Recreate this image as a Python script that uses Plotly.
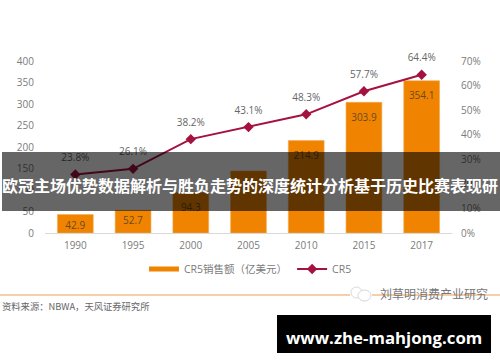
import plotly.graph_objects as go

years = ["1990", "1995", "2000", "2005", "2010", "2015", "2017"]
sales = [42.9, 52.7, 94.3, 144.0, 214.9, 303.9, 354.1]
short_bar_labels = ["42.9", "52.7", "", "", "", "", ""]
tall_bar_labels = ["", "", "94.3", "", "214.9", "303.9", "354.1"]
cr5 = [23.8, 26.1, 38.2, 43.1, 48.3, 57.7, 64.4]
cr5_labels = ["23.8%", "26.1%", "38.2%", "43.1%", "48.3%", "57.7%", "64.4%"]
left_ticks = [0, 50, 100, 150, 200, 250, 300, 350, 400]
right_ticks = [0, 10, 20, 30, 40, 50, 60, 70]
right_tick_labels = ["0%", "10%", "20%", "30%", "40%", "50%", "60%", "70%"]

title_text = "欧冠主场优势数据解析与胜负走势的深度统计分析基于历史比赛表现研"
source_text = "资料来源：NBWA，天风证券研究所"
watermark_text = "刘草明消费产业研究"
site_text = "www.zhe-mahjong.com"

ORANGE = "#f08400"
WINE = "#a5123f"
GREY = "#7b7b7b"
FONT = "Open Sans, Noto Sans CJK SC, sans-serif"
CJK = "Noto Sans CJK SC, sans-serif"

W, H = 500, 362
L, R, T, B = 45, 452, 61, 233
def px(x):
    return (x - L) / (R - L)
def py(y):
    return (B - y) / (B - T)

fig = go.Figure()
fig.add_trace(go.Bar(
    x=years, y=sales, name="CR5销售额（亿美元）", showlegend=False,
    marker=dict(color=ORANGE, line=dict(color="#f5a94f", width=0.6)),
    width=0.62, text=short_bar_labels, textposition="inside", insidetextanchor="end",
    textangle=0, cliponaxis=False, constraintext="none",
    textfont=dict(size=10, color="#6b4a1e", family=FONT), hoverinfo="skip",
))
fig.add_trace(go.Scatter(
    x=years, y=sales, mode="markers+text", showlegend=False, hoverinfo="skip",
    marker=dict(size=16, color="rgba(0,0,0,0)"),
    text=tall_bar_labels, textposition="bottom center",
    textfont=dict(size=10, color="#6b4a1e", family=FONT), cliponaxis=False,
))
# Legend key for the bars, drawn as a wide band like the original legend
fig.add_trace(go.Scatter(
    x=[None], y=[None], mode="lines", name="CR5销售额（亿美元）",
    line=dict(color=ORANGE, width=5),
))
fig.add_trace(go.Scatter(
    x=years, y=cr5, yaxis="y2", mode="lines+markers", name="CR5",
    line=dict(color=WINE, width=2), marker=dict(symbol="diamond", size=8, color=WINE),
))
fig.add_trace(go.Scatter(
    x=years, y=cr5, yaxis="y2", mode="markers+text", showlegend=False, hoverinfo="skip",
    marker=dict(size=16, color="rgba(0,0,0,0)"),
    text=cr5_labels, textposition="top center",
    textfont=dict(size=10, color="#666666", family=FONT), cliponaxis=False,
))

fig.update_layout(
    width=W, height=H, autosize=False,
    margin=dict(l=L, r=W - R, t=T, b=H - B),
    paper_bgcolor="white", plot_bgcolor="white",
    font=dict(family=FONT, size=10, color=GREY),
    bargap=0.38,
    xaxis=dict(type="category", showgrid=False, zeroline=False, showline=True,
               linecolor="#d9d9d9", linewidth=1, ticks="outside", ticklen=3, tickcolor="white",
               tickfont=dict(size=10, color=GREY)),
    yaxis=dict(range=[0, 400], tickvals=left_ticks, showgrid=False, zeroline=False,
               showline=False, ticks="", tickfont=dict(size=10, color=GREY), ticklabelstandoff=10),
    yaxis2=dict(range=[0, 70], tickvals=right_ticks, ticktext=right_tick_labels,
                overlaying="y", side="right", showgrid=False, zeroline=False,
                showline=False, ticks="", tickfont=dict(size=10, color=GREY), ticklabelstandoff=8),
    legend=dict(orientation="h", x=px(144), y=py(269), xanchor="left", yanchor="middle",
                itemwidth=30, font=dict(size=10.5, color=GREY, family=FONT),
                bgcolor="rgba(0,0,0,0)", traceorder="normal"),
    shapes=[
        dict(type="rect", xref="paper", yref="paper", x0=px(2), x1=px(500), y0=py(211), y1=py(152),
             fillcolor="rgba(0,0,0,0.6)", line=dict(width=0), layer="above"),
        dict(type="line", xref="paper", yref="paper", x0=px(0), x1=px(350), y0=py(295), y1=py(295),
             line=dict(color="#e9a050", width=1), layer="above"),
        dict(type="line", xref="paper", yref="paper", x0=px(372), x1=px(500), y0=py(295), y1=py(295),
             line=dict(color="#e9a050", width=1), layer="above"),
        dict(type="circle", xref="paper", yref="paper", x0=px(351), x1=px(362), y0=py(298), y1=py(287),
             line=dict(color="#d8d8d8", width=1), fillcolor="white", layer="above"),
        dict(type="circle", xref="paper", yref="paper", x0=px(358), x1=px(371), y0=py(301), y1=py(290),
             line=dict(color="#d8d8d8", width=1), fillcolor="white", layer="above"),
        dict(type="rect", xref="paper", yref="paper", x0=px(277), x1=px(491), y0=py(353), y1=py(315),
             fillcolor="black", line=dict(width=0), layer="above"),
    ],
    annotations=[
        dict(text=f"<b>{title_text}</b>", xref="paper", yref="paper", x=px(250), y=py(185),
             xanchor="center", yanchor="middle", showarrow=False,
             font=dict(size=16, color="white", family=CJK)),
        dict(text=source_text, xref="paper", yref="paper", x=px(0), y=py(306), xanchor="left",
             yanchor="middle", showarrow=False, font=dict(size=9.3, color="#666666", family=CJK)),
        dict(text=watermark_text, xref="paper", yref="paper", x=px(378), y=py(293), xanchor="left",
             yanchor="middle", showarrow=False, font=dict(size=12, color="#777777", family=CJK)),
        dict(text=f"<b>{site_text}</b>", xref="paper", yref="paper", x=px(384), y=py(337),
             xanchor="center", yanchor="middle", showarrow=False,
             font=dict(size=16.8, color="white", family="Open Sans, sans-serif")),
    ],
)

fig.write_html("out.html", config={"displayModeBar": False},
               post_script="document.body.style.margin='0';")
